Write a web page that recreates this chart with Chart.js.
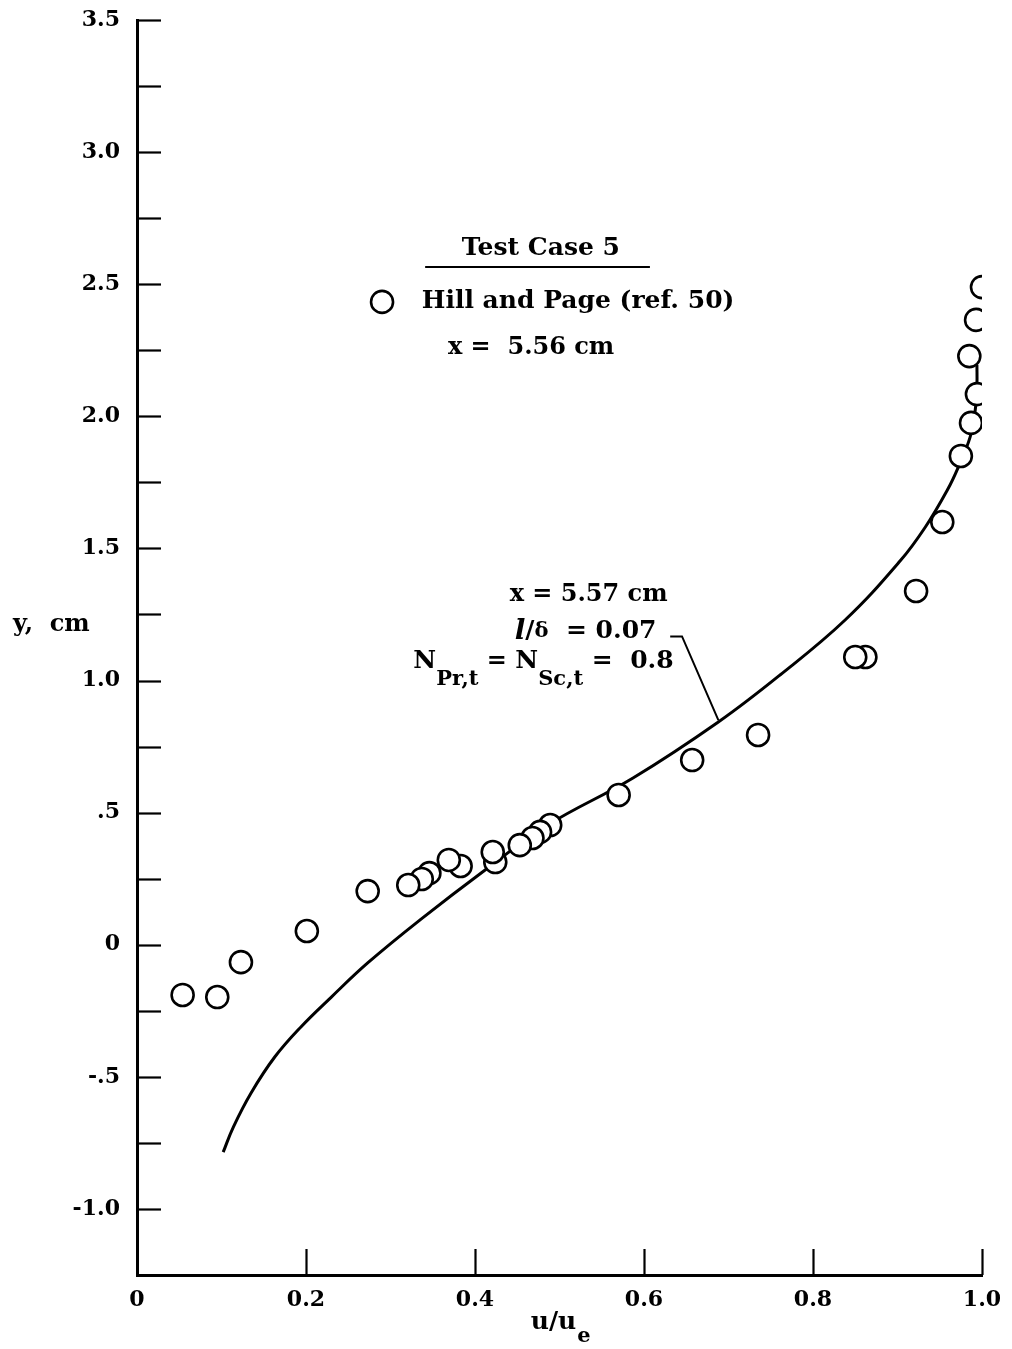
<!DOCTYPE html>
<html>
<head>
<meta charset="utf-8">
<script src="https://cdn.jsdelivr.net/npm/chart.js@4/dist/chart.umd.min.js"></script>
<style>
  html, body { margin: 0; padding: 0; background: #fff; }
  #wrap { width: 1012px; height: 1349px; position: relative; }
</style>
</head>
<body>
<div id="wrap"><canvas id="c"></canvas></div>
<script>
// Hill and Page (ref. 50) measurements at x = 5.56 cm
const measuredU = [1.000, 0.993, 0.985, 0.994, 0.987, 0.975, 0.953, 0.922, 0.862, 0.850,
                   0.735, 0.657, 0.570, 0.489, 0.477, 0.468, 0.453, 0.424, 0.421, 0.383,
                   0.369, 0.346, 0.337, 0.321, 0.273, 0.201, 0.123, 0.095, 0.054];
const measuredY = [2.489, 2.365, 2.228, 2.084, 1.975, 1.850, 1.600, 1.339, 1.089, 1.089,
                   0.794, 0.699, 0.567, 0.453, 0.427, 0.404, 0.377, 0.313, 0.351, 0.298,
                   0.321, 0.271, 0.249, 0.226, 0.203, 0.052, -0.066, -0.198, -0.190];

// Computed profile at x = 5.57 cm, l/delta = 0.07, N_Pr,t = N_Sc,t = 0.8
const profileU = [0.102, 0.114, 0.135, 0.163, 0.194, 0.230, 0.273, 0.335, 0.412, 0.486,
                  0.587, 0.688, 0.761, 0.838, 0.903, 0.933, 0.959, 0.972, 0.986, 0.992,
                  0.994, 0.994];
const profileY = [-0.785, -0.690, -0.561, -0.425, -0.311, -0.198, -0.069, 0.094, 0.283, 0.453,
                  0.631, 0.843, 1.021, 1.229, 1.452, 1.581, 1.721, 1.808, 1.922, 2.024,
                  2.119, 2.194];

// Axis tick labels
const xTickValues = [0, 0.2, 0.4, 0.6, 0.8, 1.0];
const xTickLabels = ['0', '0.2', '0.4', '0.6', '0.8', '1.0'];
const yTickValues = [3.5, 3.0, 2.5, 2.0, 1.5, 1.0, 0.5, 0, -0.5, -1.0];
const yTickLabels = ['3.5', '3.0', '2.5', '2.0', '1.5', '1.0', '.5', '0', '-.5', '-1.0'];

const SERIF = '"DejaVu Serif", "Liberation Serif", serif';

function labelFor(values, labels, v) {
  for (let i = 0; i < values.length; i++) {
    if (Math.abs(values[i] - v) < 1e-6) return labels[i];
  }
  return '';
}

const measured = measuredU.map((u, i) => ({ x: u, y: measuredY[i] }));
const profile = profileU.map((u, i) => ({ x: u, y: profileY[i] }));

// Draw a run of text pieces (with subscripts) starting at x, vertical centre y
function drawRun(ctx, pieces, x, y) {
  ctx.textBaseline = 'middle';
  ctx.textAlign = 'left';
  let cx = x;
  for (const p of pieces) {
    ctx.font = p.font;
    ctx.fillText(p.text, cx, y + (p.dy || 0));
    cx += ctx.measureText(p.text).width;
  }
  return cx;
}

const frame = {
  id: 'frame',
  afterDatasetsDraw(chart) {
    const ctx = chart.ctx;
    const xs = chart.scales.x, ys = chart.scales.y;
    const area = chart.chartArea;
    ctx.save();
    ctx.strokeStyle = '#000';
    ctx.fillStyle = '#000';

    // inward tick marks
    ctx.lineWidth = 2.2;
    for (let v = -1.0; v <= 3.5001; v += 0.25) {
      const py = Math.round(ys.getPixelForValue(v)) + 0.5;
      ctx.beginPath();
      ctx.moveTo(area.left, py);
      ctx.lineTo(area.left + 24, py);
      ctx.stroke();
    }
    for (let v = 0.2; v <= 1.0001; v += 0.2) {
      const px = Math.round(xs.getPixelForValue(v)) + 0.5;
      ctx.beginPath();
      ctx.moveTo(px, area.bottom);
      ctx.lineTo(px, area.bottom - 26);
      ctx.stroke();
    }

    const P = (u, y) => [xs.getPixelForValue(u), ys.getPixelForValue(y)];
    const main = 'bold 24px ' + SERIF;
    const big = 'bold 25px ' + SERIF;
    const sub = 'bold 21px ' + SERIF;

    // heading and legend
    const [hx, hy] = P(0.478, 2.637);
    ctx.font = big;
    ctx.textAlign = 'center';
    ctx.textBaseline = 'middle';
    ctx.fillText('Test Case 5', hx, hy);
    const [ux0, uy] = P(0.341, 2.565);
    const [ux1] = P(0.607, 2.565);
    ctx.lineWidth = 2;
    ctx.beginPath();
    ctx.moveTo(ux0, uy);
    ctx.lineTo(ux1, uy);
    ctx.stroke();

    const [lx, ly] = P(0.290, 2.433);
    ctx.beginPath();
    ctx.arc(lx, ly, 11, 0, Math.PI * 2);
    ctx.fillStyle = '#fff';
    ctx.fill();
    ctx.lineWidth = 2.6;
    ctx.stroke();
    ctx.fillStyle = '#000';
    let [tx, ty] = P(0.337, 2.433);
    drawRun(ctx, [{ text: 'Hill and Page (ref. 50)', font: big }], tx, ty);
    [tx, ty] = P(0.368, 2.259);
    drawRun(ctx, [{ text: 'x =  5.56 cm', font: main }], tx, ty);

    // profile annotation
    [tx, ty] = P(0.441, 1.324);
    drawRun(ctx, [{ text: 'x = 5.57 cm', font: main }], tx, ty);
    [tx, ty] = P(0.447, 1.184);
    drawRun(ctx, [
      { text: 'l', font: 'italic bold 28px ' + SERIF },
      { text: '/', font: big },
      { text: 'δ', font: 'bold 21px ' + SERIF },
      { text: '  = 0.07', font: big }
    ], tx, ty);
    [tx, ty] = P(0.327, 1.072);
    drawRun(ctx, [
      { text: 'N', font: big },
      { text: 'Pr,t', font: sub, dy: 18 },
      { text: ' = ', font: main },
      { text: 'N', font: big },
      { text: 'Sc,t', font: sub, dy: 18 },
      { text: ' =  0.8', font: big }
    ], tx, ty);

    // leader from the label to the computed curve
    const a = P(0.631, 1.167), b = P(0.645, 1.167), c = P(0.688, 0.850);
    ctx.lineWidth = 2;
    ctx.beginPath();
    ctx.moveTo(a[0], a[1]);
    ctx.lineTo(b[0], b[1]);
    ctx.lineTo(c[0], c[1]);
    ctx.stroke();

    // axis titles
    ctx.font = main;
    ctx.textAlign = 'left';
    ctx.textBaseline = 'middle';
    ctx.fillText('y,  cm', 13, ys.getPixelForValue(1.21));
    const ax = xs.getPixelForValue(0.466);
    const end = drawRun(ctx, [{ text: 'u/u', font: big }], ax, area.bottom + 47);
    drawRun(ctx, [{ text: 'e', font: sub }], end + 1, area.bottom + 62);
    ctx.restore();
  }
};

new Chart(document.getElementById('c'), {
  type: 'scatter',
  data: {
    datasets: [
      {
        label: 'Hill and Page (ref. 50)',
        data: measured,
        order: 0,
        pointRadius: 11,
        pointHoverRadius: 11,
        pointBorderWidth: 2.6,
        pointBorderColor: '#000',
        pointBackgroundColor: '#fff',
        showLine: false
      },
      {
        label: 'x = 5.57 cm',
        data: profile,
        order: 1,
        showLine: true,
        borderColor: '#000',
        borderWidth: 3,
        tension: 0.4,
        pointRadius: 0,
        pointHoverRadius: 0,
        fill: false
      }
    ]
  },
  options: {
    responsive: true,
    maintainAspectRatio: false,
    animation: false,
    devicePixelRatio: 1,
    layout: { padding: { top: 20, right: 30, left: 0, bottom: 0 } },
    plugins: { legend: { display: false }, tooltip: { enabled: false } },
    scales: {
      x: {
        type: 'linear',
        min: 0, max: 1.0,
        grid: { display: false, drawTicks: false },
        border: { display: true, color: '#000', width: 3 },
        ticks: {
          stepSize: 0.2,
          autoSkip: false,
          maxRotation: 0,
          padding: 12,
          color: '#000',
          font: { family: SERIF, size: 22, weight: 'bold' },
          callback: (v) => labelFor(xTickValues, xTickLabels, v)
        },
        afterFit: (s) => { s.height = 74; s.paddingLeft = 0; s.paddingRight = 0; }
      },
      y: {
        type: 'linear',
        min: -1.25, max: 3.5,
        grid: { display: false, drawTicks: false },
        border: { display: true, color: '#000', width: 3 },
        ticks: {
          stepSize: 0.25,
          autoSkip: false,
          padding: 17,
          color: '#000',
          font: { family: SERIF, size: 22, weight: 'bold' },
          callback: (v) => labelFor(yTickValues, yTickLabels, v)
        },
        afterFit: (s) => { s.width = 137; s.paddingTop = 0; s.paddingBottom = 0; }
      }
    }
  },
  plugins: [frame]
});
</script>
</body>
</html>
